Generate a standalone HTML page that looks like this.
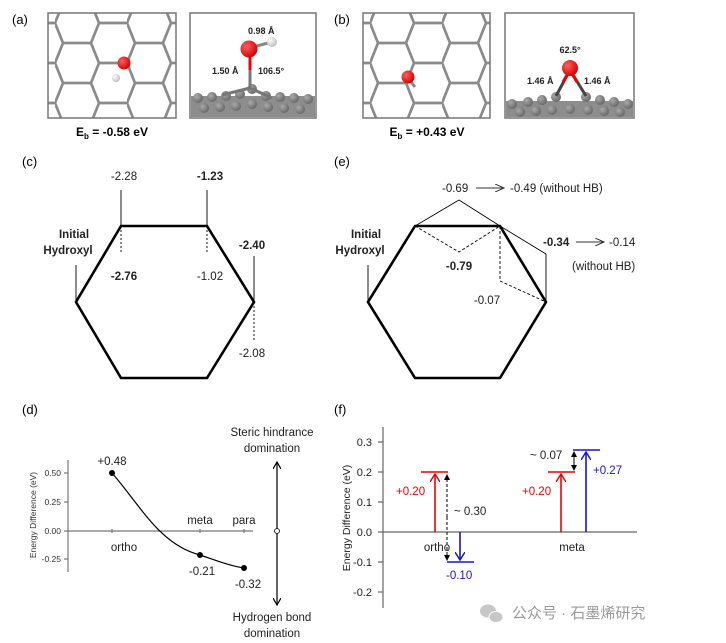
<!DOCTYPE html>
<html><head><meta charset="utf-8"><style>
html,body{margin:0;padding:0;background:#fff;}
svg{display:block;font-family:"Liberation Sans",Arial,sans-serif;}
</style></head><body>
<svg width="726" height="643" viewBox="0 0 726 643" xmlns="http://www.w3.org/2000/svg">
<defs>
<pattern id="hc" x="55" y="3" width="72" height="40" patternUnits="userSpaceOnUse">
<path d="M0,20 L8,0 L36,0 L44,20 L36,40 L8,40 Z M44,20 L72,20" fill="none" stroke="#8a8a8a" stroke-width="2.7"/>
</pattern>
<pattern id="hc2" x="370" y="3" width="72" height="40" patternUnits="userSpaceOnUse">
<path d="M0,20 L8,0 L36,0 L44,20 L36,40 L8,40 Z M44,20 L72,20" fill="none" stroke="#8a8a8a" stroke-width="2.7"/>
</pattern>
<radialGradient id="ro" cx="0.35" cy="0.35" r="0.7"><stop offset="0" stop-color="#ff6060"/><stop offset="1" stop-color="#d00000"/></radialGradient>
<radialGradient id="wh" cx="0.35" cy="0.35" r="0.7"><stop offset="0" stop-color="#fff"/><stop offset="1" stop-color="#bbb"/></radialGradient>
<radialGradient id="gc" cx="0.35" cy="0.35" r="0.7"><stop offset="0" stop-color="#aaa"/><stop offset="1" stop-color="#666"/></radialGradient>
<marker id="ah" markerWidth="8" markerHeight="8" refX="7" refY="4" orient="auto" markerUnits="userSpaceOnUse"><path d="M0,0 L7,4 L0,8" fill="none" stroke="#000" stroke-width="1.2"/></marker>
<marker id="ahr" markerWidth="10" markerHeight="10" refX="8" refY="5" orient="auto" markerUnits="userSpaceOnUse"><path d="M0,0 L8,5 L0,10" fill="none" stroke="#e00" stroke-width="1.4"/></marker>
<marker id="ahb" markerWidth="10" markerHeight="10" refX="8" refY="5" orient="auto" markerUnits="userSpaceOnUse"><path d="M0,0 L8,5 L0,10" fill="none" stroke="#1515d0" stroke-width="1.4"/></marker>
<marker id="ahk" markerWidth="6" markerHeight="6" refX="5" refY="3" orient="auto" markerUnits="userSpaceOnUse"><path d="M0,0 L6,3 L0,6 Z" fill="#000"/></marker>
<marker id="ahg" markerWidth="10" markerHeight="8" refX="9" refY="4" orient="auto" markerUnits="userSpaceOnUse"><path d="M0,0 L9,4 L0,8" fill="none" stroke="#333" stroke-width="1"/></marker>
</defs>

<!-- (a) -->
<text x="12" y="24" font-size="13">(a)</text>
<rect x="48" y="13" width="128" height="105" fill="url(#hc)" stroke="#777" stroke-width="1.5"/>
<circle cx="124" cy="63" r="6.5" fill="url(#ro)"/>
<circle cx="116" cy="78" r="4" fill="url(#wh)"/>
<rect x="190" y="13" width="126" height="105" fill="#fff" stroke="#777" stroke-width="1.5"/>
<g>
<rect x="191" y="96" width="124" height="21" fill="#8d8d8d"/>
<g fill="url(#gc)">
<circle cx="198" cy="98" r="5"/><circle cx="212" cy="97" r="5"/><circle cx="226" cy="96" r="5"/><circle cx="240" cy="94" r="5"/><circle cx="252" cy="89" r="5"/><circle cx="266" cy="96" r="5"/><circle cx="280" cy="97" r="5"/><circle cx="294" cy="98" r="5"/><circle cx="308" cy="99" r="5"/>
<circle cx="204" cy="108" r="5"/><circle cx="220" cy="107" r="5"/><circle cx="236" cy="106" r="5"/><circle cx="252" cy="104" r="5"/><circle cx="268" cy="107" r="5"/><circle cx="284" cy="108" r="5"/><circle cx="300" cy="109" r="5"/>
</g>
<line x1="250" y1="88" x2="222" y2="95" stroke="#777" stroke-width="3"/>
<line x1="250" y1="88" x2="272" y2="98" stroke="#777" stroke-width="3"/>
<line x1="250" y1="55" x2="250" y2="88" stroke="#777" stroke-width="3"/>
<line x1="250" y1="55" x2="250" y2="70" stroke="#e00" stroke-width="3"/>
<line x1="249" y1="48" x2="272" y2="42" stroke="#888" stroke-width="3"/>
<circle cx="272" cy="42" r="5" fill="url(#wh)"/>
<circle cx="249" cy="49" r="8.5" fill="url(#ro)"/>
</g>
<g font-size="9" font-weight="bold" fill="#222">
<text x="248" y="34">0.98 Å</text>
<text x="212" y="74">1.50 Å</text>
<text x="258" y="74">106.5°</text>
</g>
<text x="112" y="136" font-size="12" font-weight="bold" text-anchor="middle">E<tspan font-size="8" dy="3">b</tspan><tspan dy="-3"> = -0.58 eV</tspan></text>

<!-- (b) -->
<text x="334" y="24" font-size="13">(b)</text>
<rect x="363" y="13" width="127" height="105" fill="url(#hc2)" stroke="#777" stroke-width="1.5"/>
<line x1="408" y1="78" x2="415" y2="87" stroke="#888" stroke-width="3"/>
<circle cx="408" cy="77" r="6.5" fill="url(#ro)"/>
<rect x="505" y="13" width="129" height="105" fill="#fff" stroke="#777" stroke-width="1.5"/>
<rect x="506" y="101" width="127" height="16" fill="#8d8d8d"/>
<g fill="url(#gc)">
<circle cx="512" cy="104" r="5"/><circle cx="528" cy="102" r="5"/><circle cx="542" cy="100" r="5"/><circle cx="556" cy="97" r="5"/><circle cx="586" cy="97" r="5"/><circle cx="600" cy="100" r="5"/><circle cx="614" cy="102" r="5"/><circle cx="628" cy="104" r="5"/>
<circle cx="520" cy="112" r="5"/><circle cx="536" cy="111" r="5"/><circle cx="552" cy="110" r="5"/><circle cx="570" cy="109" r="5"/><circle cx="588" cy="110" r="5"/><circle cx="604" cy="111" r="5"/><circle cx="620" cy="112" r="5"/>
</g>
<line x1="570" y1="70" x2="556" y2="96" stroke="#444" stroke-width="3"/>
<line x1="570" y1="70" x2="586" y2="96" stroke="#444" stroke-width="3"/>
<line x1="570" y1="70" x2="563" y2="82" stroke="#e00" stroke-width="3"/>
<line x1="570" y1="70" x2="577" y2="82" stroke="#e00" stroke-width="3"/>
<circle cx="570" cy="68" r="8" fill="url(#ro)"/>
<g font-size="9" font-weight="bold" fill="#222">
<text x="570" y="53" text-anchor="middle">62.5°</text>
<text x="527" y="84">1.46 Å</text>
<text x="584" y="84">1.46 Å</text>
</g>
<text x="427" y="136" font-size="12" font-weight="bold" text-anchor="middle">E<tspan font-size="8" dy="3">b</tspan><tspan dy="-3"> = +0.43 eV</tspan></text>

<!-- (c) -->
<text x="22" y="166" font-size="13">(c)</text>
<polygon points="121,226 207,226 254,302 207,378 121,378 76,302" fill="none" stroke="#000" stroke-width="2.6"/>
<g stroke="#000" stroke-width="0.9">
<line x1="121" y1="190" x2="121" y2="226"/><line x1="207" y1="190" x2="207" y2="226"/>
<line x1="76" y1="265" x2="76" y2="302"/><line x1="254" y1="256" x2="254" y2="302"/>
</g>
<g stroke="#000" stroke-width="0.9" stroke-dasharray="2,2">
<line x1="121" y1="226" x2="121" y2="254"/><line x1="207" y1="226" x2="207" y2="254"/><line x1="254" y1="302" x2="254" y2="340"/>
</g>
<g font-size="11.5" text-anchor="middle" fill="#222">
<text x="124" y="180">-2.28</text>
<text x="210" y="180" font-weight="bold">-1.23</text>
<text x="74" y="238" font-weight="bold">Initial</text>
<text x="68" y="254" font-weight="bold">Hydroxyl</text>
<text x="124" y="280" font-weight="bold">-2.76</text>
<text x="210" y="280">-1.02</text>
<text x="252" y="249" font-weight="bold">-2.40</text>
<text x="252" y="357">-2.08</text>
</g>

<!-- (e) -->
<text x="334" y="166" font-size="13">(e)</text>
<polygon points="415,226 500,226 546,302 500,378 415,378 368,302" fill="none" stroke="#000" stroke-width="2.6"/>
<g stroke="#000" stroke-width="0.9" fill="none">
<line x1="368" y1="265" x2="368" y2="302"/>
<polyline points="415,226 459,200 500,226"/>
<polyline points="500,226 546,254 546,302"/>
</g>
<g stroke="#000" stroke-width="0.9" fill="none" stroke-dasharray="3,2">
<polyline points="415,226 459,252 500,226"/>
<polyline points="500,226 500,281 546,302"/>
</g>
<g font-size="11.5" fill="#222">
<text x="442" y="192">-0.69</text>
<line x1="476" y1="188" x2="504" y2="188" stroke="#333" stroke-width="1" marker-end="url(#ahg)"/>
<text x="510" y="192">-0.49 (without HB)</text>
<text x="543" y="246" font-weight="bold">-0.34</text>
<line x1="576" y1="242" x2="604" y2="242" stroke="#333" stroke-width="1" marker-end="url(#ahg)"/>
<text x="609" y="246">-0.14</text>
<text x="572" y="270">(without HB)</text>
<text x="459" y="270" font-weight="bold" text-anchor="middle">-0.79</text>
<text x="487" y="304" text-anchor="middle">-0.07</text>
<text x="366" y="238" font-weight="bold" text-anchor="middle">Initial</text>
<text x="360" y="254" font-weight="bold" text-anchor="middle">Hydroxyl</text>
</g>

<!-- (d) -->
<text x="22" y="414" font-size="13">(d)</text>
<g stroke="#777" stroke-width="1.2">
<line x1="68" y1="460" x2="68" y2="572"/>
<line x1="68" y1="531" x2="253" y2="531"/>
<line x1="64" y1="473" x2="68" y2="473"/><line x1="64" y1="502" x2="68" y2="502"/><line x1="64" y1="531" x2="68" y2="531"/><line x1="64" y1="559" x2="68" y2="559"/>
<line x1="112" y1="529" x2="112" y2="533"/><line x1="200" y1="529" x2="200" y2="533"/><line x1="244" y1="529" x2="244" y2="533"/>
</g>
<g font-size="8.5" fill="#333" text-anchor="end">
<text x="61" y="476">0.50</text><text x="61" y="505">0.25</text><text x="61" y="534">0.00</text><text x="61" y="562">-0.25</text>
</g>
<text transform="translate(36,515) rotate(-90)" font-size="8.5" text-anchor="middle" fill="#333">Energy Difference (eV)</text>
<path d="M112,473 C140,505 160,545 200,555 C215,560 230,566 244,568" fill="none" stroke="#000" stroke-width="1.2"/>
<circle cx="112" cy="473" r="3" fill="#000"/><circle cx="200" cy="555" r="3" fill="#000"/><circle cx="244" cy="568" r="3" fill="#000"/>
<g font-size="11.5" fill="#222" text-anchor="middle">
<text x="112" y="465">+0.48</text>
<text x="124" y="551">ortho</text>
<text x="200" y="524">meta</text>
<text x="244" y="524">para</text>
<text x="202" y="575">-0.21</text>
<text x="248" y="588">-0.32</text>
<text x="272" y="436">Steric hindrance</text>
<text x="272" y="452">domination</text>
<text x="272" y="621">Hydrogen bond</text>
<text x="272" y="637">domination</text>
</g>
<line x1="277" y1="531" x2="277" y2="462" stroke="#000" stroke-width="1.2" marker-end="url(#ah)"/>
<line x1="277" y1="531" x2="277" y2="605" stroke="#000" stroke-width="1.2" marker-end="url(#ah)"/>
<circle cx="277" cy="531" r="2.5" fill="#fff" stroke="#000" stroke-width="0.8"/>

<!-- (f) -->
<text x="334" y="414" font-size="13">(f)</text>
<g stroke="#666" stroke-width="1.2">
<line x1="383" y1="427" x2="383" y2="608"/>
<line x1="383" y1="532" x2="637" y2="532"/>
<line x1="378" y1="442" x2="383" y2="442"/><line x1="378" y1="472" x2="383" y2="472"/><line x1="378" y1="502" x2="383" y2="502"/><line x1="378" y1="532" x2="383" y2="532"/><line x1="378" y1="562" x2="383" y2="562"/><line x1="378" y1="592" x2="383" y2="592"/>
</g>
<g font-size="11" fill="#222" text-anchor="end">
<text x="372" y="446">0.3</text><text x="372" y="476">0.2</text><text x="372" y="506">0.1</text><text x="372" y="536">0.0</text><text x="372" y="566">-0.1</text><text x="372" y="596">-0.2</text>
</g>
<text transform="translate(350,518) rotate(-90)" font-size="10.5" text-anchor="middle" fill="#222">Energy Difference (eV)</text>
<g stroke-width="1.6">
<line x1="421" y1="472" x2="448" y2="472" stroke="#e00"/>
<line x1="435" y1="532" x2="435" y2="474" stroke="#e00" marker-end="url(#ahr)"/>
<line x1="447" y1="562" x2="474" y2="562" stroke="#1515d0"/>
<line x1="460" y1="532" x2="460" y2="560" stroke="#1515d0" marker-end="url(#ahb)"/>
<line x1="548" y1="472" x2="575" y2="472" stroke="#e00"/>
<line x1="561" y1="532" x2="561" y2="474" stroke="#e00" marker-end="url(#ahr)"/>
<line x1="573" y1="450" x2="600" y2="450" stroke="#1515d0"/>
<line x1="586" y1="532" x2="586" y2="452" stroke="#1515d0" marker-end="url(#ahb)"/>
</g>
<line x1="447" y1="517" x2="447" y2="475" stroke="#000" stroke-width="1" stroke-dasharray="3,2" marker-end="url(#ahk)"/>
<line x1="447" y1="517" x2="447" y2="560" stroke="#000" stroke-width="1" stroke-dasharray="3,2" marker-end="url(#ahk)"/>
<line x1="574" y1="461" x2="574" y2="452" stroke="#000" stroke-width="1" marker-end="url(#ahk)"/>
<line x1="574" y1="461" x2="574" y2="470" stroke="#000" stroke-width="1" marker-end="url(#ahk)"/>
<g font-size="11.5">
<text x="396" y="495" fill="#e00">+0.20</text>
<text x="454" y="515" fill="#222">~ 0.30</text>
<text x="437" y="551" fill="#222" text-anchor="middle">ortho</text>
<text x="446" y="579" fill="#1515d0">-0.10</text>
<text x="530" y="459" fill="#222">~ 0.07</text>
<text x="593" y="474" fill="#1515d0">+0.27</text>
<text x="522" y="495" fill="#e00">+0.20</text>
<text x="572" y="551" fill="#222" text-anchor="middle">meta</text>
</g>
<!-- watermark -->
<g opacity="0.55">
<ellipse cx="488" cy="611" rx="8" ry="6.5" fill="#999"/>
<ellipse cx="496" cy="617" rx="7" ry="5.5" fill="#999" stroke="#fff" stroke-width="1"/>
</g>
<text x="512" y="618" font-size="15" fill="#9a9a9a" font-family="'Liberation Sans','Noto Sans CJK SC',sans-serif">公众号 · 石墨烯研究</text>
</svg>
</body></html>
